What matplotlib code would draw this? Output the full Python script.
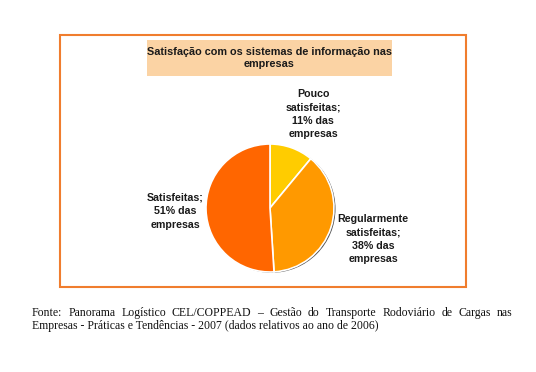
import matplotlib
matplotlib.use('Agg')
import matplotlib.pyplot as plt
import matplotlib.patches as mpatches

# ── Data ────────────────────────────────────────────────────────────────────────
TITLE = 'Satisfação com os sistemas de informação nas\nempresas'
LABELS = ['Pouco\nsatisfeitas;\n11% das\nempresas',
          'Regularmente\nsatisfeitas;\n38% das\nempresas',
          'Satisfeitas;\n51% das\nempresas']
SHARES = [11, 38, 51]
COLORS = ['#FFCC00', '#FF9900', '#FF6600']
SOURCE_LINE1 = ('Fonte: Panorama Logístico CEL/COPPEAD – Gestão do Transporte '
                'Rodoviário de Cargas nas')
SOURCE_LINE2 = 'Empresas - Práticas e Tendências - 2007 (dados relativos ao ano de 2006)'

W, H = 536, 372
fig = plt.figure(figsize=(W / 100, H / 100), dpi=100)
ax = fig.add_axes([0, 0, 1, 1])


def y(py):
    # image pixel row -> data y
    return H - py


# frame
ax.add_patch(mpatches.Rectangle((60, y(287)), 406, 252, fill=False,
                                edgecolor='#F07D2E', linewidth=1.5))

# title box
ax.add_patch(mpatches.Rectangle((147, y(76)), 245, 36, facecolor='#FBD3A4',
                                edgecolor='none'))
ax.text(269.5, y(58), TITLE, ha='center', va='center', fontsize=7.8,
        fontweight='bold', family='Liberation Sans', color='#1a1a1a',
        linespacing=1.3)

# pie with a faint shadow
cx, cy, r = 270, y(208), 64
ax.add_patch(mpatches.Circle((cx + 1.5, cy - 0.8), r, facecolor='#505050',
                             edgecolor='none', zorder=1))
wedges, _ = ax.pie(SHARES, colors=COLORS, startangle=90, counterclock=False,
                   center=(cx, cy), radius=r, frame=True,
                   wedgeprops=dict(edgecolor='white', linewidth=1.2, zorder=2))
ax.set_xlim(0, W)
ax.set_ylim(0, H)
ax.set_aspect('equal')
ax.axis('off')

label_pos = [(313, 114), (373, 239), (175, 211)]
for lab, (lx, ly) in zip(LABELS, label_pos):
    ax.text(lx, y(ly), lab, ha='center', va='center', fontsize=7.7,
            fontweight='bold', family='Liberation Sans', color='#1a1a1a',
            linespacing=1.45)

# source note, first line justified
x0, x1 = 32, 512
words = SOURCE_LINE1.split(' ')
fig.canvas.draw()
renderer = fig.canvas.get_renderer()
txts = [ax.text(0, y(313), w, fontsize=8.5, family='Liberation Serif',
                va='center', ha='left', color='#111111') for w in words]
widths = [t.get_window_extent(renderer).width for t in txts]
gap = (x1 - x0 - sum(widths)) / (len(words) - 1)
pos = x0
for t, w in zip(txts, widths):
    t.set_x(pos)
    pos += w + gap
ax.text(x0, y(326.5), SOURCE_LINE2, fontsize=8.5, family='Liberation Serif',
        va='center', ha='left', color='#111111')

fig.savefig('out.png', dpi=100)
